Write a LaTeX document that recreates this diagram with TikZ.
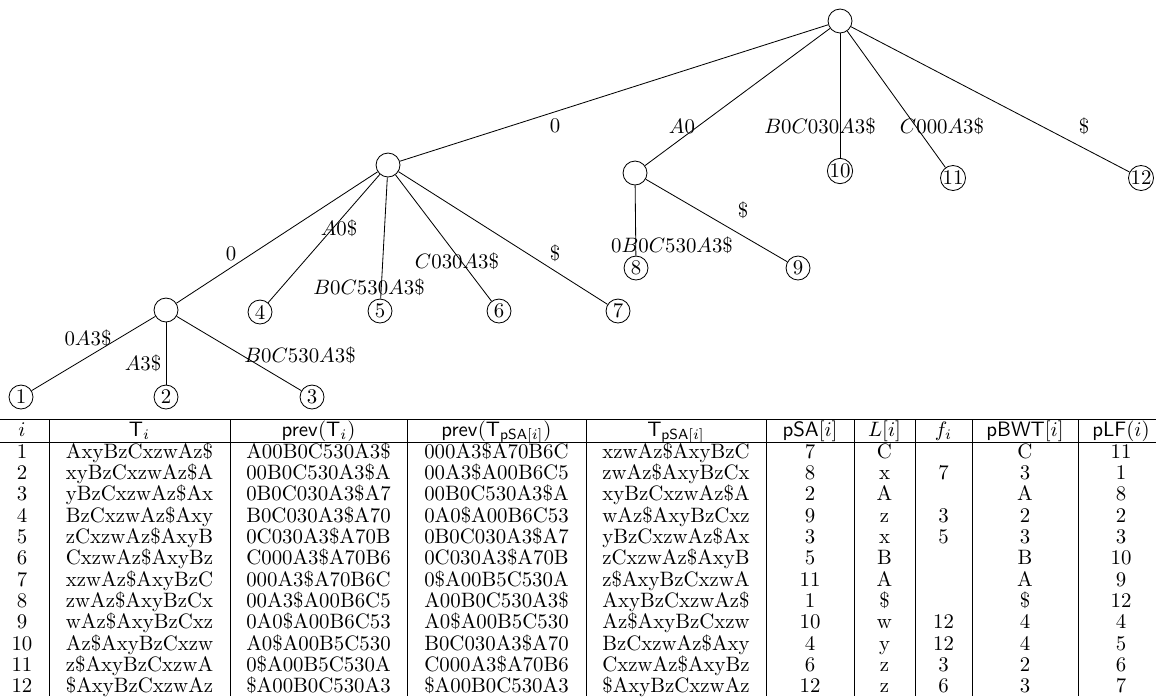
\documentclass[tikz,border=0pt]{standalone}
\begin{document}
\begin{tikzpicture}[x=0.48pt,y=-0.48pt,
  vtx/.style={circle,draw,line width=0.4pt,inner sep=0pt,minimum size=11.5pt},
  lab/.style={inner sep=0pt,anchor=center},
  treeedge/.style={line width=0.4pt},
  cell/.style={inner sep=0pt,anchor=base},
  tabrule/.style={line width=0.4pt}]
\useasboundingbox (0,0) rectangle (1156,696);
% ---------------- tree nodes
\node[vtx] (r) at (840,21) {};
\node[vtx] (a) at (388,165) {};
\node[vtx] (c) at (635,173) {};
\node[vtx] (l10) at (840,171) {10};
\node[vtx] (l11) at (953,178) {11};
\node[vtx] (l12) at (1141,178) {12};
\node[vtx] (b) at (166,310) {};
\node[vtx] (l4) at (260,312) {4};
\node[vtx] (l5) at (380,311) {5};
\node[vtx] (l6) at (499,311) {6};
\node[vtx] (l7) at (618,311) {7};
\node[vtx] (l8) at (636,268) {8};
\node[vtx] (l9) at (798,268) {9};
\node[vtx] (l1) at (21,397) {1};
\node[vtx] (l2) at (166,397) {2};
\node[vtx] (l3) at (312,397) {3};
% ---------------- tree edges
\draw[treeedge] (r) -- (a);
\draw[treeedge] (r) -- (c);
\draw[treeedge] (r) -- (l10);
\draw[treeedge] (r) -- (l11);
\draw[treeedge] (r) -- (l12);
\draw[treeedge] (a) -- (b);
\draw[treeedge] (a) -- (l4);
\draw[treeedge] (a) -- (l5);
\draw[treeedge] (a) -- (l6);
\draw[treeedge] (a) -- (l7);
\draw[treeedge] (c) -- (l8);
\draw[treeedge] (c) -- (l9);
\draw[treeedge] (b) -- (l1);
\draw[treeedge] (b) -- (l2);
\draw[treeedge] (b) -- (l3);
% ---------------- edge labels
\node[lab] (t-ra) at (555,126) {$0$};
\node[lab] (t-rc) at (682,126) {$A0$};
\node[lab] (t-r10) at (820,126) {$B0C030A3\$$};
\node[lab] (t-r11) at (942,126) {$C000A3\$$};
\node[lab] (t-r12) at (1084,126) {$\$$};
\node[lab] (t-ab) at (231,254) {$0$};
\node[lab] (t-a4) at (339,228) {$A0\$$};
\node[lab] (t-a5) at (369,287) {$B0C530A3\$$};
\node[lab] (t-a6) at (457,261) {$C030A3\$$};
\node[lab] (t-a7) at (555,253) {$\$$};
\node[lab] (t-c8) at (672,245) {$0B0C530A3\$$};
\node[lab] (t-c9) at (743,210) {$\$$};
\node[lab] (t-b1) at (88,338) {$0A3\$$};
\node[lab] (t-b2) at (143,363) {$A3\$$};
\node[lab] (t-b3) at (300,355) {$B0C530A3\$$};
% ---------------- table rules
\draw[tabrule] (0,419) -- (1156,419);
\draw[tabrule] (0,442) -- (1156,442);
\foreach \xx in {49,230,407,586,766,854,915,972,1078}
  \draw[tabrule] (\xx,419) -- (\xx,696);
% ---------------- header
\node[cell] (h1) at (22,436) {$i$};
\node[cell] (h2) at (139.5,436) {$\mathsf{T}_i$};
\node[cell] (h3) at (318.5,436) {$\mathsf{prev}(\mathsf{T}_i)$};
\node[cell] (h4) at (496.5,436) {$\mathsf{prev}(\mathsf{T}_{\mathsf{pSA}[i]})$};
\node[cell] (h5) at (676,436) {$\mathsf{T}_{\mathsf{pSA}[i]}$};
\node[cell] (h6) at (810,436) {$\mathsf{pSA}[i]$};
\node[cell] (h7) at (884.5,436) {$L[i]$};
\node[cell] (h8) at (943.5,436) {$f_i$};
\node[cell] (h9) at (1025,436) {$\mathsf{pBWT}[i]$};
\node[cell] (h10) at (1121,436) {$\mathsf{pLF}(i)$};
% ---------------- rows
\foreach \k/\ta/\tb/\tc/\td/\pa/\la/\fa/\ba/\lf in {
 1/AxyBzCxzwAz\$/A00B0C530A3\$/000A3\$A70B6C/xzwAz\$AxyBzC/7/C/{}/C/11,
 2/xyBzCxzwAz\$A/00B0C530A3\$A/00A3\$A00B6C5/zwAz\$AxyBzCx/8/x/7/3/1,
 3/yBzCxzwAz\$Ax/0B0C030A3\$A7/00B0C530A3\$A/xyBzCxzwAz\$A/2/A/{}/A/8,
 4/BzCxzwAz\$Axy/B0C030A3\$A70/0A0\$A00B6C53/wAz\$AxyBzCxz/9/z/3/2/2,
 5/zCxzwAz\$AxyB/0C030A3\$A70B/0B0C030A3\$A7/yBzCxzwAz\$Ax/3/x/5/3/3,
 6/CxzwAz\$AxyBz/C000A3\$A70B6/0C030A3\$A70B/zCxzwAz\$AxyB/5/B/{}/B/10,
 7/xzwAz\$AxyBzC/000A3\$A70B6C/0\$A00B5C530A/z\$AxyBzCxzwA/11/A/{}/A/9,
 8/zwAz\$AxyBzCx/00A3\$A00B6C5/A00B0C530A3\$/AxyBzCxzwAz\$/1/\$/{}/\$/12,
 9/wAz\$AxyBzCxz/0A0\$A00B6C53/A0\$A00B5C530/Az\$AxyBzCxzw/10/w/12/4/4,
 10/Az\$AxyBzCxzw/A0\$A00B5C530/B0C030A3\$A70/BzCxzwAz\$Axy/4/y/12/4/5,
 11/z\$AxyBzCxzwA/0\$A00B5C530A/C000A3\$A70B6/CxzwAz\$AxyBz/6/z/3/2/6,
 12/\$AxyBzCxzwAz/\$A00B0C530A3/\$A00B0C530A3/\$AxyBzCxzwAz/12/z/6/3/7}{
  \pgfmathsetmacro\yy{458+21.36*(\k-1)}
  \node[cell] (i-\k) at (22,\yy) {\k};
  \node[cell] (ta-\k) at (139.5,\yy) {\ta};
  \node[cell] (tb-\k) at (318.5,\yy) {\tb};
  \node[cell] (tc-\k) at (496.5,\yy) {\tc};
  \node[cell] (td-\k) at (676,\yy) {\td};
  \node[cell] (pa-\k) at (810,\yy) {\pa};
  \node[cell] (la-\k) at (884.5,\yy) {\la};
  \node[cell] (fa-\k) at (943.5,\yy) {\fa};
  \node[cell] (ba-\k) at (1025,\yy) {\ba};
  \node[cell] (lf-\k) at (1121,\yy) {\lf};
}
\end{tikzpicture}
\end{document}
